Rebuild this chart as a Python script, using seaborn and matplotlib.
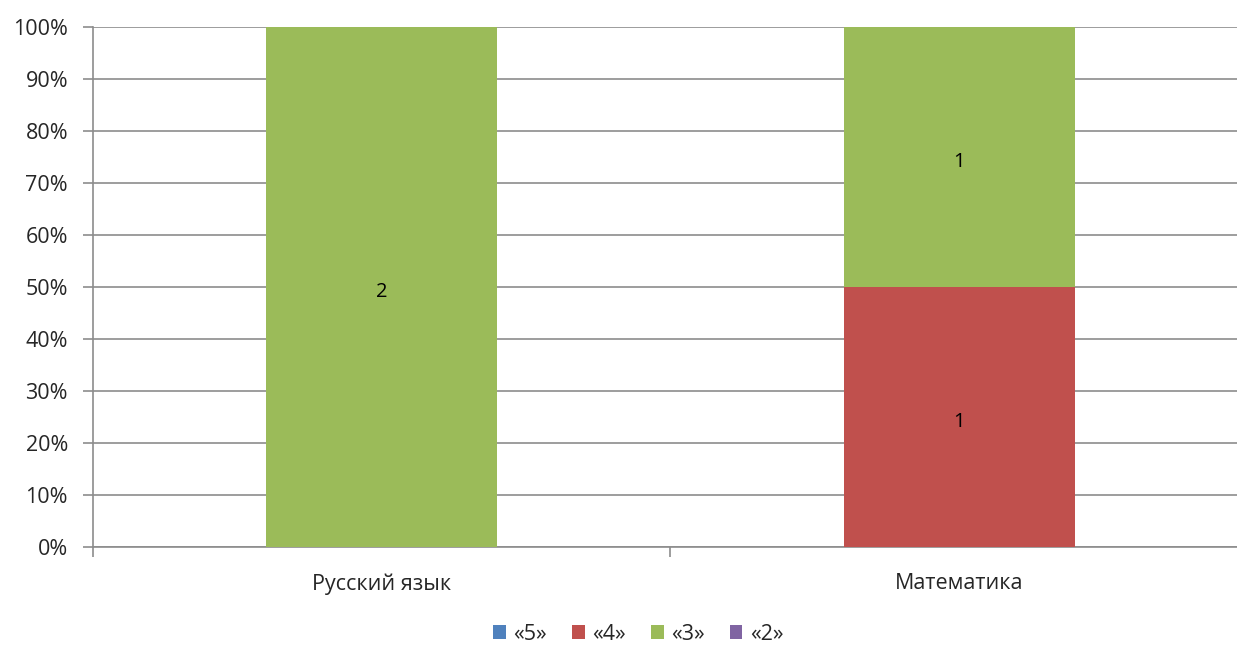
import numpy as np
import pandas as pd
import seaborn as sns
import matplotlib.pyplot as plt
from matplotlib.patches import Patch

subjects = ["Русский язык", "Математика"]
grades = ["«5»", "«4»", "«3»", "«2»"]
count_5 = [0, 0]
count_4 = [0, 1]
count_3 = [2, 1]
count_2 = [0, 0]
colors = ["#4F81BD", "#C0504D", "#9BBB59", "#8064A2"]

sns.set_theme(style="white")
plt.rcParams['font.family'] = ['Open Sans', 'DejaVu Sans']

counts = np.array([count_5, count_4, count_3, count_2], dtype=float)
totals = counts.sum(axis=0)
pct = counts / totals * 100
cum = pct.cumsum(axis=0)

fig = plt.figure(figsize=(12.37, 6.46), dpi=100)
ax = fig.add_axes([0.0752, 0.1533, 0.9248, 0.8049])

# stacked bars drawn from the top series down so they overlap correctly
for i in reversed(range(len(grades))):
    df = pd.DataFrame({"subject": subjects, "value": cum[i]})
    sns.barplot(data=df, x="subject", y="value", color=colors[i],
                width=0.4, saturation=1, linewidth=0, edgecolor="none",
                ax=ax, zorder=3)

# value labels
bottoms = np.vstack([np.zeros(len(subjects)), cum[:-1]])
for i in range(len(grades)):
    for j in range(len(subjects)):
        if counts[i, j] > 0:
            ax.text(j, bottoms[i, j] + pct[i, j] / 2 - 0.5, f"{int(counts[i, j])}",
                    ha="center", va="center_baseline", fontsize=14.5,
                    color="black", zorder=4)

ax.set_ylim(0, 100)
ax.set_xlim(-0.5, 1.481)
ax.set_yticks(range(0, 101, 10))
ax.set_yticklabels([f"{v}%" for v in range(0, 101, 10)], fontsize=15.5)
ax.yaxis.grid(True, color="#8c8c8c", linewidth=1.2, zorder=0)
ax.set_axisbelow(True)

ax.set_xticks([0, 1])
ax.set_xticklabels(subjects, fontsize=15.5)
ax.set_xticks([-0.5, 0.5], minor=True)
ax.tick_params(axis="x", which="major", length=0, pad=19)
ax.tick_params(axis="x", which="minor", length=7, color="#8c8c8c", width=1.2, bottom=True)
ax.tick_params(axis="y", length=7, color="#8c8c8c", width=1.2, left=True, pad=11)
ax.set_xlabel("")
ax.set_ylabel("")

for s in ["top", "right"]:
    ax.spines[s].set_visible(False)
for s in ["left", "bottom"]:
    ax.spines[s].set_color("#8c8c8c")
    ax.spines[s].set_linewidth(1.2)

handles = [Patch(facecolor=c, edgecolor="none") for c in colors]
fig.legend(handles, grades, loc="center", bbox_to_anchor=(0.516, 0.018),
           ncol=4, frameon=False, fontsize=15.5, handlelength=0.6, handleheight=0.6,
           handletextpad=0.35, columnspacing=1.15)

fig.savefig("out.png", dpi=100)
